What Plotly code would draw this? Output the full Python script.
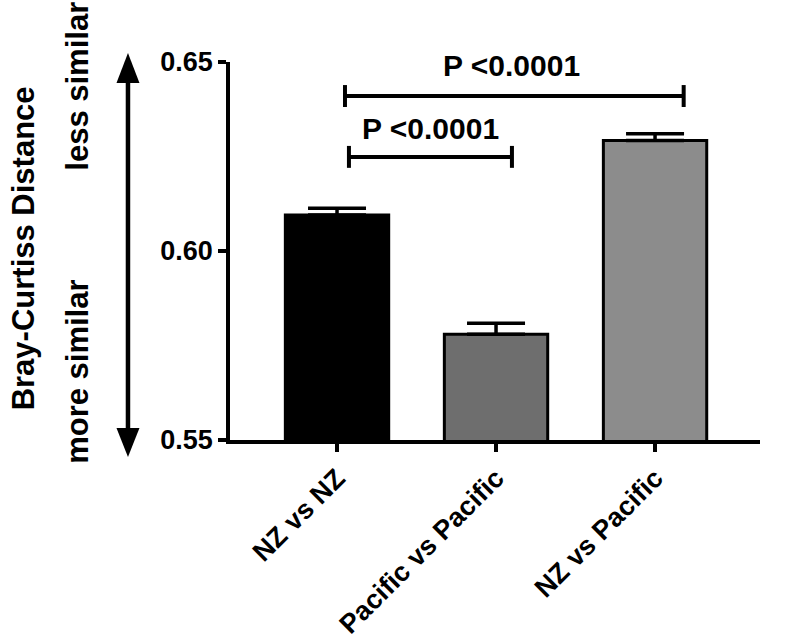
import plotly.graph_objects as go

categories = ["NZ vs NZ", "Pacific vs Pacific", "NZ vs Pacific"]
means = [0.6095, 0.5780, 0.6292]
sem = [0.0018, 0.0029, 0.0018]
bar_colors = ["#000000", "#6e6e6e", "#8c8c8c"]
y_ticks = [0.55, 0.60, 0.65]
p_labels = ["P <0.0001", "P <0.0001"]

FONT = "Liberation Sans, Arial, sans-serif"

fig = go.Figure()
fig.add_trace(go.Bar(
    x=categories, y=means, width=0.65,
    marker=dict(color=bar_colors, line=dict(color="black", width=3)),
    error_y=dict(type="data", array=sem, arrayminus=[0, 0, 0], symmetric=False,
                 color="black", thickness=3.5, width=29),
    showlegend=False, hoverinfo="skip",
))

# significance brackets
brackets = [(0.075, 1.10, 0.6249, 0.585, 0.6325), (0.05, 2.18, 0.6410, 1.10, 0.6490)]
for (x0, x1, yb, xt, yt), lab in zip(brackets, p_labels):
    fig.add_shape(type="line", x0=x0, x1=x1, y0=yb, y1=yb, line=dict(color="black", width=4))
    for xx in (x0, x1):
        fig.add_shape(type="line", x0=xx, x1=xx, y0=yb - 0.0029, y1=yb + 0.0029,
                      line=dict(color="black", width=4))
    fig.add_annotation(x=xt, y=yt, text="<b>%s</b>" % lab, showarrow=False,
                       font=dict(family=FONT, size=30, color="black"),
                       xanchor="center", yanchor="middle")

# double-headed arrow at left
ax = -0.1925
fig.add_shape(type="line", xref="paper", yref="paper", x0=ax, x1=ax, y0=-0.0, y1=0.98,
              line=dict(color="black", width=4.5))
fig.add_shape(type="path", xref="paper", yref="paper", fillcolor="black", line=dict(width=0),
              path="M %f %f L %f %f L %f %f Z" % (ax, 1.0238, ax - 0.0217, 0.9444, ax + 0.0217, 0.9444))
fig.add_shape(type="path", xref="paper", yref="paper", fillcolor="black", line=dict(width=0),
              path="M %f %f L %f %f L %f %f Z" % (ax, -0.045, ax - 0.0217, 0.0317, ax + 0.0217, 0.0317))

side_texts = [("Bray-Curtiss Distance", -0.388, 0.508),
              ("less similar", -0.287, 0.937),
              ("more similar", -0.287, 0.180)]
for txt, px, py in side_texts:
    fig.add_annotation(xref="paper", yref="paper", x=px, y=py, text="<b>%s</b>" % txt,
                       textangle=-90, showarrow=False, xanchor="center", yanchor="middle",
                       font=dict(family=FONT, size=31, color="black"))

fig.update_layout(
    width=800, height=641,
    margin=dict(l=230, r=40, t=62, b=201, autoexpand=False),
    plot_bgcolor="white", paper_bgcolor="white",
    font=dict(family=FONT, color="black"),
)
fig.update_xaxes(range=[-0.673, 2.66], showline=True, linecolor="black", linewidth=3.5,
                 ticks="outside", ticklen=8, tickwidth=3.5, tickcolor="black",
                 tickangle=-45, tickfont=dict(family=FONT, size=27, color="black", weight="bold"),
                 showgrid=False, zeroline=False, automargin=False)
fig.update_yaxes(range=[0.55, 0.65], tickvals=y_ticks, tickformat=".2f",
                 showline=True, linecolor="black", linewidth=3.5,
                 ticks="outside", ticklen=8, tickwidth=3.5, tickcolor="black",
                 tickfont=dict(family=FONT, size=27, color="black", weight="bold"),
                 showgrid=False, zeroline=False, automargin=False)

fig.write_html("out.html", config={"displayModeBar": False},
               post_script="document.body.style.margin='0';document.body.style.overflow='hidden';")
